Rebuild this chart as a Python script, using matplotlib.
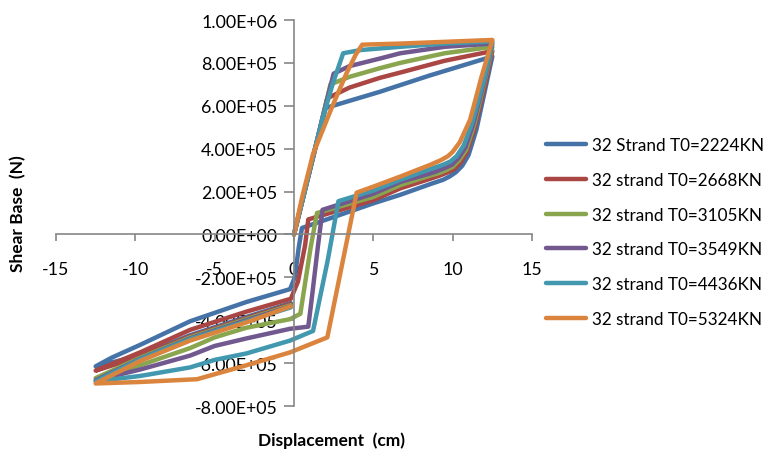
import numpy as np
import matplotlib
matplotlib.use('Agg')
import matplotlib.pyplot as plt
from matplotlib.ticker import FuncFormatter, MultipleLocator

plt.rcParams['font.family'] = ['Lato', 'DejaVu Sans']
plt.rcParams['axes.unicode_minus'] = False

# Series labels and colours #
labels = ['32 Strand T0=2224KN', '32 strand T0=2668KN', '32 strand T0=3105KN',
          '32 strand T0=3549KN', '32 strand T0=4436KN', '32 strand T0=5324KN']
colors = ['#4572A7', '#AA4643', '#89A54E', '#71588F', '#4198AF', '#DB843D']

# Displacement (cm) and shear base (x 1e5 N) #
x_2224 = [0, 0.7, 1.3, 2.0, 5.4, 8.5, 12.5, 12.0, 11.5, 11.0, 10.6, 10.2, 9.8, 9.4, 8.6, 6.7, 5.0,
          0.5, 0.3, 0.05, -0.25, -3.0, -6.55, -9.7, -11.5, -12.5, -9.7, -6.55, -3.0, -0.2]
y_2224 = [0, 2.1, 3.9, 5.9, 6.65, 7.4, 8.3, 6.6, 4.9, 3.7, 3.2, 2.9, 2.7, 2.55, 2.35, 1.85, 1.45,
          0.3, -0.6, -2.0, -2.55, -3.15, -4.05, -5.15, -5.75, -6.15, -5.65, -4.7, -3.85, -3.2]

x_2668 = [0, 0.7, 1.3, 2.1, 3.5, 5.4, 6.7, 9.5, 12.5, 12.0, 11.4, 10.9, 10.5, 10.1, 9.7, 9.2, 8.6, 6.7, 5.0,
          0.9, 0.7, 0.25, -0.2, -3.0, -6.55, -9.7, -12.5, -9.7, -6.55, -3.0, -0.2]
y_2668 = [0, 2.1, 3.9, 6.35, 6.85, 7.3, 7.55, 8.1, 8.55, 6.85, 5.0, 3.85, 3.35, 3.05, 2.9, 2.75, 2.6, 2.15, 1.6,
          0.7, -0.5, -2.2, -3.0, -3.6, -4.45, -5.5, -6.35, -5.7, -4.75, -3.9, -3.25]

x_3105 = [0, 0.7, 1.3, 2.3, 3.5, 5.4, 6.7, 9.5, 12.5, 12.0, 11.35, 10.85, 10.4, 10.0, 9.6, 9.1, 8.6, 6.7, 5.0,
          1.45, 1.05, 0.65, 0.4, -0.25, -3.0, -5.0, -6.55, -9.7, -12.5, -9.7, -6.55, -3.0, -0.2]
y_3105 = [0, 2.1, 3.9, 7.0, 7.35, 7.75, 8.0, 8.45, 8.75, 7.1, 5.1, 3.95, 3.45, 3.15, 3.0, 2.85, 2.75, 2.3, 1.75,
          1.0, -0.6, -2.5, -3.7, -3.95, -4.35, -4.8, -5.3, -6.1, -6.7, -5.75, -4.8, -3.95, -3.3]

x_3549 = [0, 0.7, 1.3, 1.8, 2.5, 3.5, 5.4, 6.7, 9.5, 12.5, 12.0, 11.3, 10.8, 10.35, 9.95, 9.5, 9.0, 8.6, 6.7, 5.0,
          1.8, 1.5, 1.15, 0.9, -0.25, -3.0, -5.0, -6.55, -9.7, -12.5, -9.7, -6.55, -3.0, -0.2]
y_3549 = [0, 2.1, 3.9, 5.45, 7.5, 7.85, 8.2, 8.45, 8.75, 8.9, 7.2, 5.15, 4.05, 3.55, 3.25, 3.1, 2.95, 2.85, 2.45, 1.9,
          1.15, -0.6, -2.8, -4.3, -4.4, -4.85, -5.2, -5.65, -6.3, -6.8, -5.8, -4.85, -4.0, -3.35]

x_4436 = [0, 0.7, 1.3, 1.8, 2.45, 3.1, 4.2, 6.7, 9.5, 12.5, 12.0, 11.25, 10.7, 10.25, 9.85, 9.4, 8.6, 6.7, 5.0,
          2.8, 2.14, 1.2, -0.25, -3.0, -5.0, -6.55, -9.7, -12.5, -9.7, -6.55, -3.0, -0.2]
y_4436 = [0, 2.1, 3.95, 5.4, 7.05, 8.45, 8.6, 8.75, 8.9, 9.0, 7.3, 5.25, 4.15, 3.65, 3.4, 3.25, 3.05, 2.55, 2.05,
          1.55, -1.15, -4.5, -4.95, -5.55, -5.85, -6.2, -6.6, -6.85, -5.82, -4.88, -4.05, -3.4]

x_5324 = [0, 0.5, 1.2, 2.4, 3.3, 3.9, 4.3, 6.7, 12.5, 11.8, 11.1, 10.45, 10.0, 9.7, 9.3, 8.6, 6.7, 5.0,
          3.95, 3.1, 2.1, -0.25, -3.0, -6.1, -9.7, -12.5, -9.7, -6.55, -3.0, -0.2]
y_5324 = [0, 1.7, 3.75, 5.95, 7.5, 8.4, 8.85, 8.9, 9.07, 7.3, 5.35, 4.3, 3.85, 3.65, 3.48, 3.25, 2.7, 2.23,
          1.95, -1.15, -4.8, -5.5, -6.1, -6.75, -6.88, -6.95, -5.9, -4.95, -4.1, -3.35]

xs = [x_2224, x_2668, x_3105, x_3549, x_4436, x_5324]
ys = [y_2224, y_2668, y_3105, y_3549, y_4436, y_5324]

fig = plt.figure(figsize=(7.66, 4.56), dpi=100)
ax = fig.add_axes([56 / 766, 1 - 407 / 456, 476 / 766, 386 / 456])

# Plot the loops #
for x, y, c, lab in zip(xs, ys, colors, labels):
    ax.plot(x, np.array(y) * 1e5, color=c, lw=3.2, label=lab,
            solid_capstyle='round', solid_joinstyle='round')

# Format Graph #
ax.set_xlim(-15, 15)
ax.set_ylim(-8e5, 1e6)
ax.xaxis.set_major_locator(MultipleLocator(5))
ax.yaxis.set_major_locator(MultipleLocator(2e5))
ax.yaxis.set_major_formatter(FuncFormatter(lambda v, p: '{:.2E}'.format(v)))

for s in ['top', 'right']:
    ax.spines[s].set_visible(False)
ax.spines['left'].set_position(('data', 0))
ax.spines['bottom'].set_position(('data', 0))
for s in ['left', 'bottom']:
    ax.spines[s].set_color('#868686')
    ax.spines[s].set_linewidth(1.2)
ax.tick_params(axis='x', direction='out', length=5, width=1.2, color='#868686',
               labelsize=12.8, pad=14)
ax.tick_params(axis='y', direction='out', length=7, width=1.2, color='#868686',
               labelsize=12.8, pad=5)
ax.patch.set_alpha(0)

fig.text(18 / 766, 1 - 214 / 456, 'Shear Base  (N)', rotation=90, ha='center', va='center',
         fontsize=12.5, fontweight='bold')
fig.text(331 / 766, 1 - 441 / 456, 'Displacement  (cm)', ha='center', va='center',
         fontsize=12.5, fontweight='bold')

fig.legend(loc='center left', bbox_to_anchor=(531 / 766, 1 - 233 / 456), frameon=False,
           fontsize=12.3, handlelength=2.3, handletextpad=0.35, labelspacing=1.1)

fig.savefig('out.png', dpi=100)
